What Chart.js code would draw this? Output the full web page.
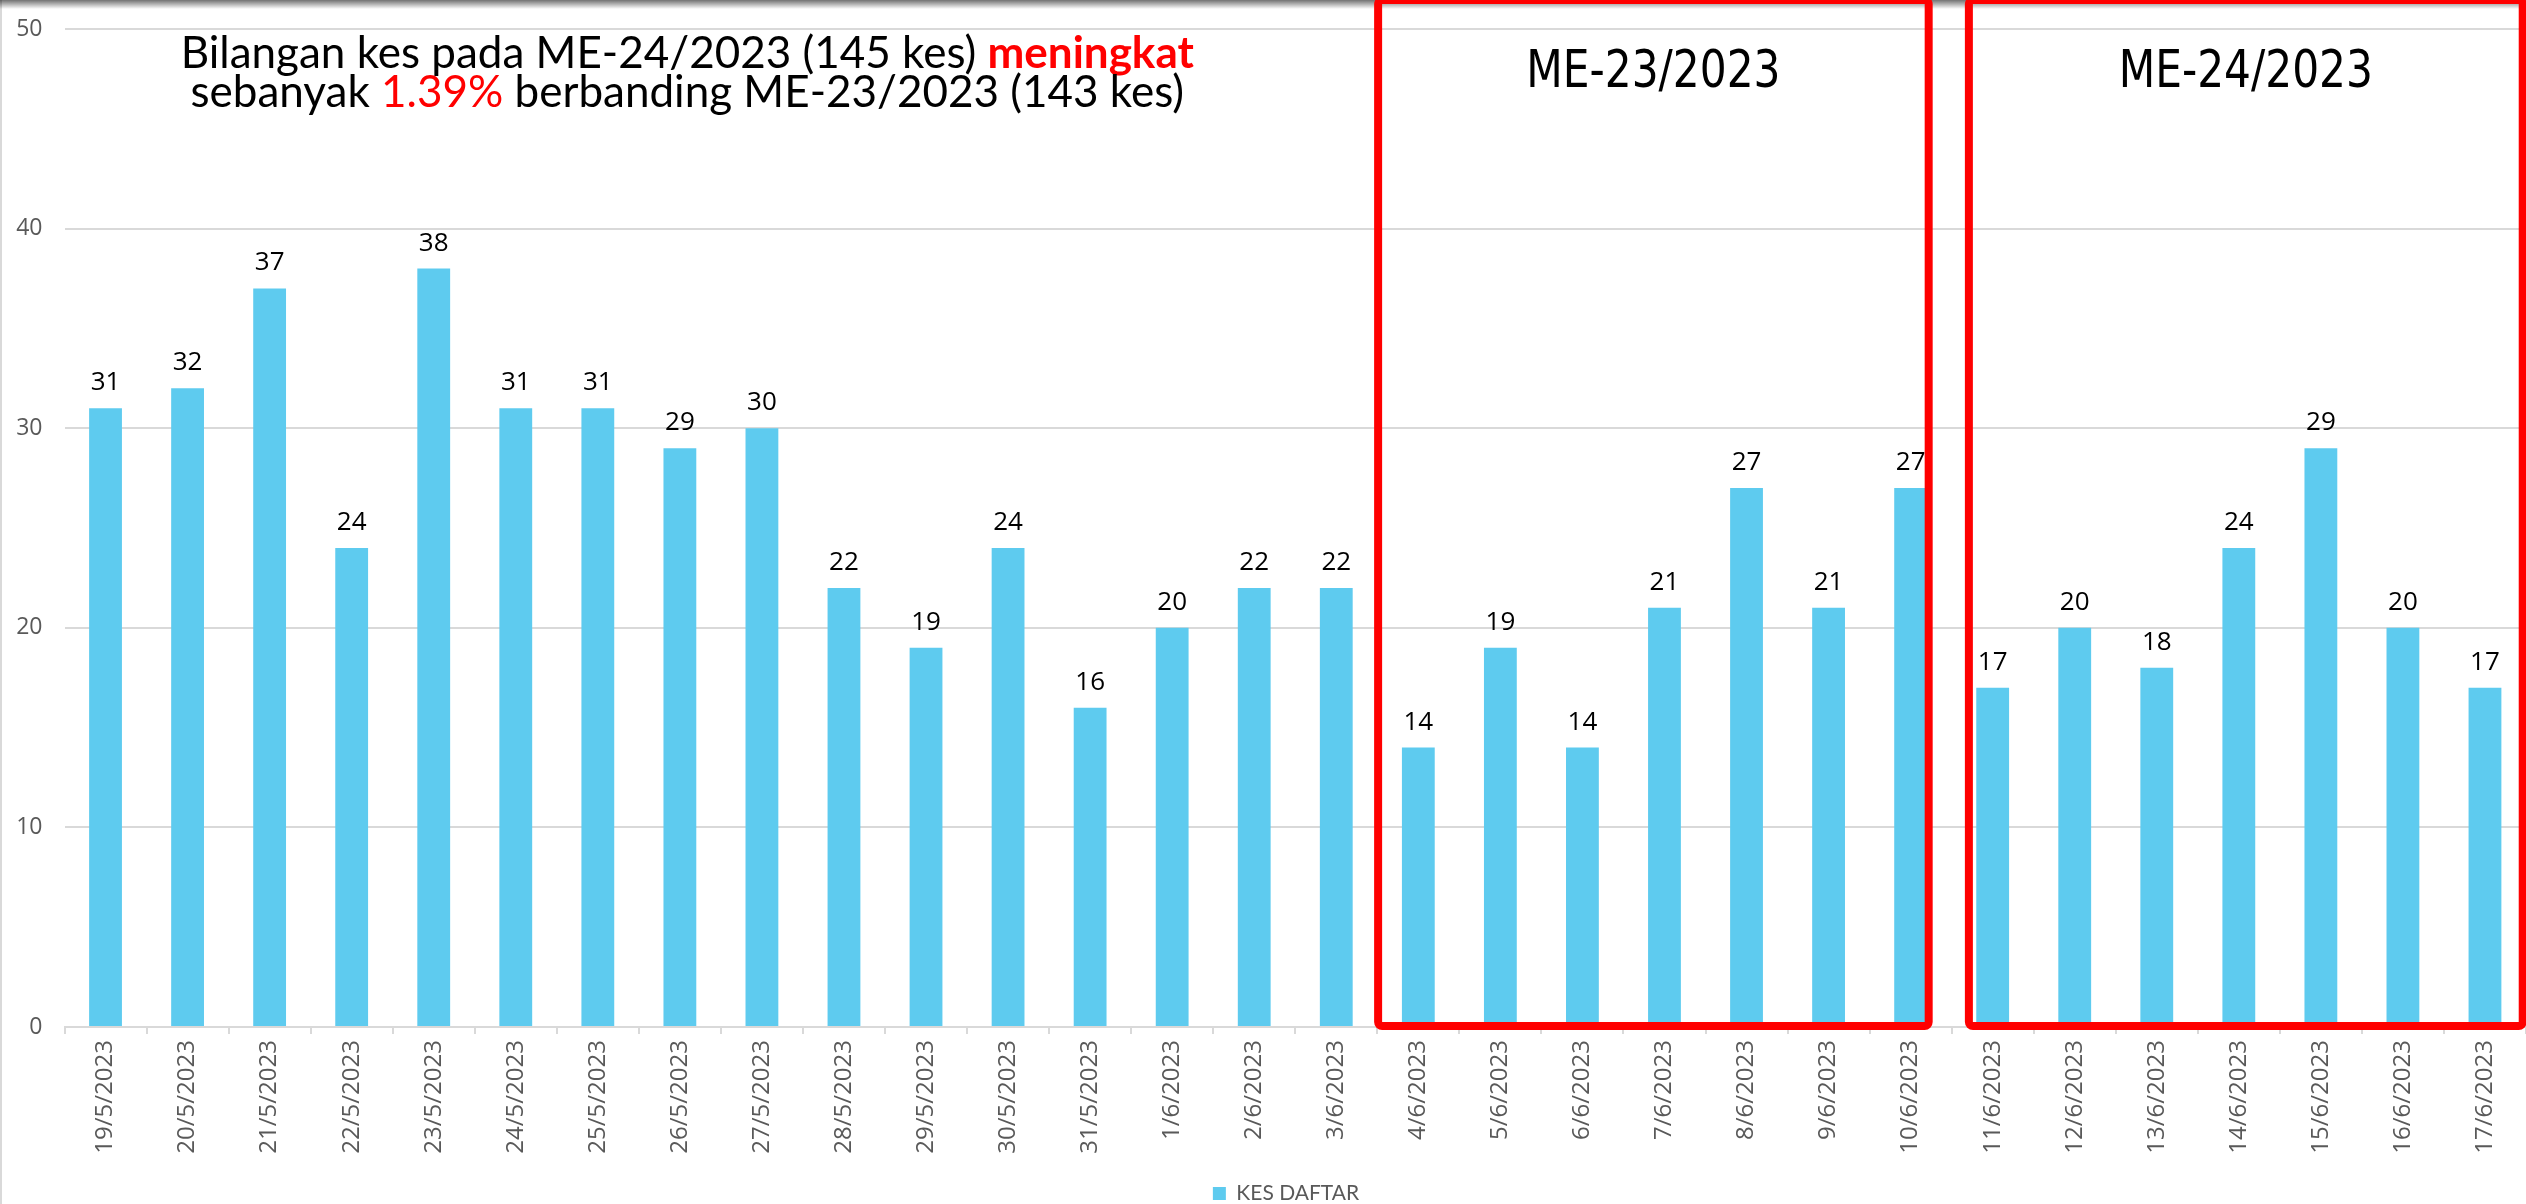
<!DOCTYPE html>
<html>
<head>
<meta charset="utf-8">
<script src="https://cdn.jsdelivr.net/npm/chart.js@4.4.0/dist/chart.umd.min.js"></script>
<style>
html,body{margin:0;padding:0;background:#fff;overflow:hidden;}
#wrap{width:2526px;height:1214px;}
</style>
</head>
<body>
<div id="wrap"><canvas id="c" width="2526" height="1214"></canvas></div>
<script>
// ---- data ----
const categories = ['19/5/2023','20/5/2023','21/5/2023','22/5/2023','23/5/2023','24/5/2023','25/5/2023','26/5/2023','27/5/2023','28/5/2023','29/5/2023','30/5/2023','31/5/2023','1/6/2023','2/6/2023','3/6/2023','4/6/2023','5/6/2023','6/6/2023','7/6/2023','8/6/2023','9/6/2023','10/6/2023','11/6/2023','12/6/2023','13/6/2023','14/6/2023','15/6/2023','16/6/2023','17/6/2023'];
const kesDaftar = [31,32,37,24,38,31,31,29,30,22,19,24,16,20,22,22,14,19,14,21,27,21,27,17,20,18,24,29,20,17];
const yTickValues = [0,10,20,30,40,50];
const seriesName = 'KES DAFTAR';
const titleLine1 = [
  {text:'Bilangan kes pada ME-24/2023 (145 kes) ', red:false, bold:false},
  {text:'meningkat', red:true, bold:true}
];
const titleLine2 = [
  {text:'sebanyak ', red:false, bold:false},
  {text:'1.39%', red:true, bold:false},
  {text:' berbanding ME-23/2023 (143 kes)', red:false, bold:false}
];
const weekGroups = [
  {label:'ME-23/2023', first:'4/6/2023', last:'10/6/2023'},
  {label:'ME-24/2023', first:'11/6/2023', last:'17/6/2023'}
];

// ---- styles ----
const BAR = '#5ECBEF';
const GRID = '#d9d9d9';
const TICK = '#595959';
const RED = '#ff0000';
const CHART_BOTTOM = 1027;

const overlay = {
  id:'overlay',
  afterLayout(chart){
    if (chart.legend) { chart.legend.left += 23; chart.legend.right += 23; }
  },
  beforeDraw(chart){
    const ctx = chart.ctx;
    ctx.save(); ctx.fillStyle='#fff'; ctx.fillRect(0,0,chart.width,chart.height); ctx.restore();
  },
  afterDatasetsDraw(chart){
    const ctx = chart.ctx;
    const meta = chart.getDatasetMeta(0);
    ctx.save();
    ctx.font = '26px "Open Sans", sans-serif';
    ctx.fillStyle = '#000';
    ctx.textAlign = 'center';
    ctx.textBaseline = 'alphabetic';
    meta.data.forEach((bar,i)=>{
      ctx.fillText(String(kesDaftar[i]), bar.x, bar.y - 18);
    });
    ctx.restore();
  },
  afterDraw(chart){
    const ctx = chart.ctx;
    const xs = chart.scales.x, ys = chart.scales.y;
    const ca = chart.chartArea;
    ctx.save();
    // left frame line
    ctx.strokeStyle = GRID; ctx.lineWidth = 2;
    ctx.beginPath(); ctx.moveTo(1,0); ctx.lineTo(1,chart.height); ctx.stroke();
    // top shadow
    const g = ctx.createLinearGradient(0,0,0,9);
    g.addColorStop(0,'rgba(0,0,0,0.55)'); g.addColorStop(1,'rgba(0,0,0,0)');
    ctx.fillStyle = g; ctx.fillRect(0,0,chart.width,9);

    // title
    const drawLine = (parts, cx, baseline) => {
      const fontFor = p => (p.bold ? 'bold ' : '') + '44px Lato, sans-serif';
      let total = 0;
      parts.forEach(p => { ctx.font = fontFor(p); total += ctx.measureText(p.text).width; });
      let x = cx - total/2;
      ctx.textAlign = 'left'; ctx.textBaseline = 'alphabetic';
      parts.forEach(p => {
        ctx.font = fontFor(p);
        ctx.fillStyle = p.red ? RED : '#000';
        ctx.fillText(p.text, x, baseline);
        x += ctx.measureText(p.text).width;
      });
    };
    const tcx = ca.left + 0.253*(ca.right-ca.left);
    drawLine(titleLine1, tcx, 68);
    drawLine(titleLine2, tcx, 107);

    // week boxes
    const n = categories.length;
    const step = (ca.right - ca.left)/n;
    const catPx = v => xs.getPixelForValue(0) + v*step;
    const yTop = ys.getPixelForValue(51.45);
    const yBot = ys.getPixelForValue(0.05);
    weekGroups.forEach((w,k) => {
      const i0 = categories.indexOf(w.first), i1 = categories.indexOf(w.last);
      const l = catPx(i0 - (k===0 ? 0.49 : 0.29));
      const r = catPx(i1 + (k===0 ? 0.22 : 0.46));
      ctx.strokeStyle = RED; ctx.lineWidth = 8; ctx.lineJoin='round';
      ctx.beginPath();
      if (ctx.roundRect) ctx.roundRect(l, yTop, r-l, yBot-yTop, 4); else ctx.rect(l, yTop, r-l, yBot-yTop);
      ctx.stroke();
      ctx.save();
      ctx.translate((l+r)/2, 87);
      ctx.scale(0.94, 1.04);
      ctx.font = '50px "Liberation Sans Narrow", "DejaVu Sans Condensed", sans-serif';
      ctx.fillStyle = '#000'; ctx.textAlign='center'; ctx.textBaseline='alphabetic';
      ctx.fillText(w.label, 0, 0);
      ctx.restore();
    });
    ctx.restore();
  }
};

new Chart(document.getElementById('c'), {
  type:'bar',
  data:{
    labels: categories,
    datasets:[{
      label: seriesName,
      data: kesDaftar,
      backgroundColor: BAR,
      borderWidth: 0,
      categoryPercentage: 1.0,
      barPercentage: 0.4
    }]
  },
  options:{
    responsive:false,
    animation:false,
    devicePixelRatio:1,
    layout:{padding:{top:29,left:0,right:0,bottom:0}},
    plugins:{
      legend:{
        display:true, position:'bottom',
        labels:{
          font:{family:'Lato, sans-serif', size:21},
          color:TICK, boxWidth:13, boxHeight:13, padding:10
        }
      },
      tooltip:{enabled:false},
      title:{display:false}
    },
    scales:{
      x:{
        offset:true,
        grid:{display:true, drawOnChartArea:false, drawTicks:true, tickLength:7, color:GRID, lineWidth:2},
        border:{display:true, color:GRID, width:2},
        ticks:{
          autoSkip:false, maxRotation:90, minRotation:90, padding:6,
          color:TICK, font:{family:'"Open Sans", sans-serif', size:24}
        },
        afterFit(s){
          const lh = (s.chart.legend && s.chart.legend.height) ? s.chart.legend.height : 43;
          s.height = s.chart.height - lh - CHART_BOTTOM;
          s.paddingLeft = 0; s.paddingRight = 0;
        }
      },
      y:{
        min:0, max:50,
        afterBuildTicks(s){ s.ticks = yTickValues.map(v=>({value:v})); },
        grid:{color:GRID, lineWidth:2, drawTicks:false},
        border:{display:false},
        ticks:{padding:22, color:TICK, font:{family:'"Open Sans", sans-serif', size:23}},
        afterFit(s){ s.width = 64.5; s.paddingTop = 0; s.paddingBottom = 0; }
      }
    }
  },
  plugins:[overlay]
});
</script>
</body>
</html>
